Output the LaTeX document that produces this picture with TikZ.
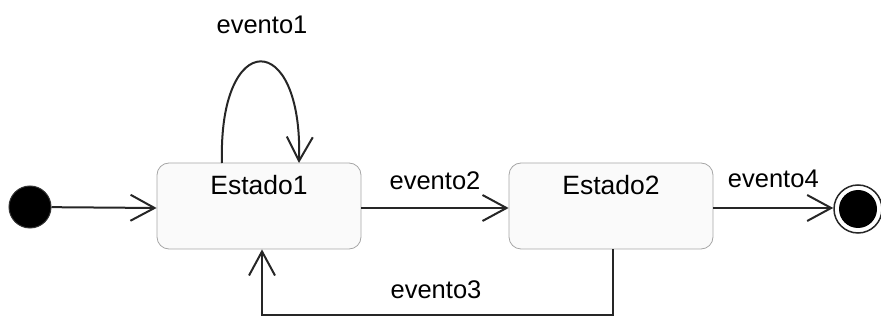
\documentclass[tikz,border=0pt]{standalone}
\usepackage{fontspec}
\setmainfont{Liberation Sans}
\usetikzlibrary{arrows.meta}

\tikzset{
  estado/.style={draw=gray!70, fill=gray!4, rounded corners=12pt, line width=0.8pt,
    minimum width=204pt, minimum height=86pt, inner sep=0pt},
  trans/.style={draw=black!85, line width=2pt, -{Straight Barb[length=24pt,width=26pt,line width=2pt]}},
  rotulo/.style={inner sep=0pt}
}

\begin{document}
\begin{tikzpicture}[x=1pt, y=-1pt, font=\fontsize{25.5}{30}\selectfont]
  \useasboundingbox (0,0) rectangle (881,320);
  % estados
  \node[estado, label={[anchor=north, inner sep=0pt, yshift=-12pt, font=\fontsize{26.5}{30}\selectfont]north:Estado1}] (e1) at (259,206) {};
  \node[estado, label={[anchor=north, inner sep=0pt, yshift=-12pt, font=\fontsize{26.5}{30}\selectfont]north:Estado2}] (e2) at (611,206) {};
  % inicio y fin
  \node[circle, fill=black, draw=black!80, line width=1pt, minimum size=42pt, inner sep=0pt] (ini) at (30,207) {};
  \node[circle, draw=black!85, line width=1.5pt, minimum size=48pt, inner sep=0pt] (fin) at (858,209) {};
  \fill (fin.center) circle (19);
  % transiciones
  \draw[trans] (ini) -- (e1.west |- 0,208);
  \draw[trans] (e1.east |- 0,208) -- (e2.west |- 0,208) node[rotulo, midway, above=17pt] {evento2};
  \draw[trans] (e2.east |- 0,208) -- (fin.west |- 0,208) node[rotulo, midway, above=19pt] {evento4};
  \coordinate (a) at (222,163);
  \coordinate (b) at (299,163);
  \draw[trans] (a) .. controls (218,28) and (303,28) .. (b);
  \node[rotulo] (ev1) at (262,25) {evento1};
  \coordinate (c) at (613,315);
  \coordinate (d) at (262,315);
  \draw[trans] (e2.south -| c) -- (c) -- (d) -- (e1.south -| d);
  \node[rotulo] (ev3) at (436,290) {evento3};
\end{tikzpicture}
\end{document}
